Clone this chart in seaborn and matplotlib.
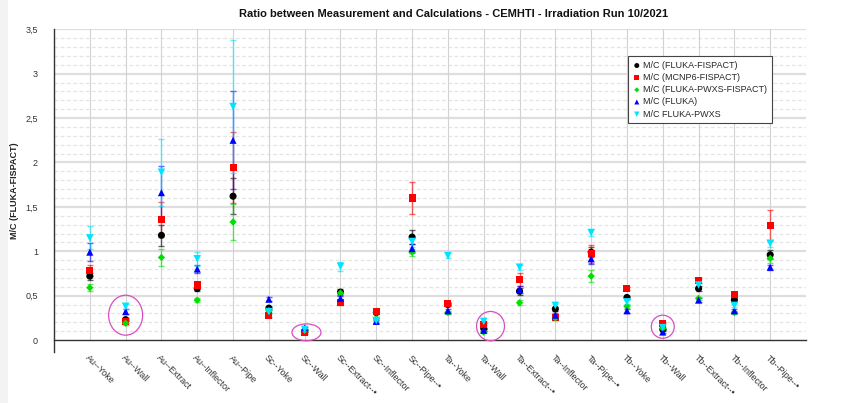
import numpy as np
import pandas as pd
import matplotlib
matplotlib.use("Agg")
import matplotlib.pyplot as plt
from matplotlib.patches import Ellipse, Rectangle
from matplotlib.ticker import MultipleLocator, FuncFormatter
import seaborn as sns

# ---- data -------------------------------------------------------------
categories = ["Au--Yoke", "Au--Wall", "Au--Extract", "Au--Inflector", "Au--Pipe",
              "Sc--Yoke", "Sc--Wall", "Sc--Extract--•", "Sc--Inflector", "Sc--Pipe--•",
              "Ta--Yoke", "Ta--Wall", "Ta--Extract--•", "Ta--Inflector", "Ta--Pipe--•",
              "Tb--Yoke", "Tb--Wall", "Tb--Extract--•", "Tb--Inflector", "Tb--Pipe--•"]

series_names = ["M/C (FLUKA-FISPACT)", "M/C (MCNP6-FISPACT)", "M/C (FLUKA-PWXS-FISPACT)",
                "M/C (FLUKA)", "M/C FLUKA-PWXS"]

fluka_fispact = [0.72, 0.23, 1.18, 0.58, 1.62, 0.36, 0.10, 0.54, 0.31, 1.16,
                 0.40, 0.13, 0.55, 0.35, 0.99, 0.48, 0.12, 0.58, 0.45, 0.96]
fluka_fispact_err = [0.04, 0.02, 0.12, 0.03, 0.20, 0.02, 0.01, 0.03, 0.02, 0.08,
                     0.02, 0.01, 0.04, 0.02, 0.06, 0.02, 0.01, 0.03, 0.02, 0.05]

mcnp6_fispact = [0.78, 0.21, 1.36, 0.62, 1.94, 0.28, 0.08, 0.42, 0.32, 1.60,
                 0.41, 0.18, 0.68, 0.25, 0.97, 0.58, 0.19, 0.67, 0.51, 1.29]
mcnp6_fispact_err = [0.06, 0.02, 0.20, 0.03, 0.40, 0.02, 0.01, 0.02, 0.02, 0.18,
                     0.02, 0.01, 0.07, 0.02, 0.10, 0.02, 0.01, 0.03, 0.02, 0.17]

pwxs_fispact = [0.59, 0.19, 0.93, 0.45, 1.33, 0.33, 0.11, 0.53, 0.24, 0.99,
                0.31, 0.09, 0.42, 0.25, 0.72, 0.38, 0.13, 0.47, 0.31, 0.92]
pwxs_fispact_err = [0.04, 0.02, 0.10, 0.02, 0.20, 0.02, 0.01, 0.02, 0.02, 0.04,
                    0.02, 0.01, 0.03, 0.02, 0.07, 0.02, 0.01, 0.02, 0.02, 0.05]

fluka = [0.99, 0.32, 1.66, 0.80, 2.25, 0.46, 0.14, 0.47, 0.21, 1.03,
         0.33, 0.11, 0.57, 0.28, 0.915, 0.33, 0.09, 0.45, 0.33, 0.82]
fluka_err = [0.10, 0.03, 0.30, 0.05, 0.55, 0.02, 0.01, 0.03, 0.02, 0.05,
             0.02, 0.01, 0.04, 0.02, 0.06, 0.02, 0.01, 0.02, 0.02, 0.03]

fluka_pwxs = [1.15, 0.38, 1.89, 0.915, 2.63, 0.32, 0.12, 0.83, 0.22, 1.11,
              0.95, 0.21, 0.82, 0.39, 1.21, 0.43, 0.14, 0.62, 0.39, 1.09]
fluka_pwxs_err = [0.13, 0.03, 0.38, 0.08, 0.75, 0.02, 0.01, 0.05, 0.02, 0.06,
                  0.03, 0.01, 0.03, 0.02, 0.04, 0.02, 0.01, 0.02, 0.02, 0.04]

values = [fluka_fispact, mcnp6_fispact, pwxs_fispact, fluka, fluka_pwxs]
errors = [fluka_fispact_err, mcnp6_fispact_err, pwxs_fispact_err, fluka_err, fluka_pwxs_err]

colors = ["#000000", "#ff0000", "#00e000", "#0000ff", "#00e5ff"]
markers = ["o", "s", "D", "^", "v"]
sizes = [26, 26, 14, 26, 30]

# long-form table for seaborn
rows = []
for name, vals, errs in zip(series_names, values, errors):
    for i, (v, e) in enumerate(zip(vals, errs)):
        rows.append({"pos": i, "category": categories[i], "series": name, "value": v, "err": e})
df = pd.DataFrame(rows)

# ---- figure -------------------------------------------------------------
sns.set_style("white")
plt.rcParams["font.family"] = ["Liberation Sans", "DejaVu Sans"]

fig = plt.figure(figsize=(8.45, 4.03), dpi=100)
fig.patches.append(Rectangle((0, 0), 8 / 845, 1, transform=fig.transFigure,
                             facecolor="#f3f3f3", edgecolor="none", zorder=0))
ax = fig.add_axes([54 / 845, 1 - 351.6 / 403, 752 / 845, 322.3 / 403])

# grid
for y in np.arange(0.1, 3.5001, 0.1):
    if abs(y / 0.5 - round(y / 0.5)) < 1e-6:
        ax.axhline(y, color="#dedede", lw=1.6, zorder=0)
    else:
        ax.axhline(y, color="#e4e4e4", lw=0.9, ls=(0, (3, 2)), zorder=0)
for i in range(len(categories)):
    ax.plot([i, i], [0, 3.5], color="#d2d2d2", lw=0.8, zorder=0)

# error bars
for name, color in zip(series_names, colors):
    sub = df[df["series"] == name]
    ax.errorbar(sub["pos"], sub["value"], yerr=sub["err"], fmt="none",
                ecolor=color, elinewidth=1.0, capsize=2.5, capthick=1.0,
                alpha=0.6, zorder=2)

# markers
for name, color, mk, s in zip(series_names, colors, markers, sizes):
    sub = df[df["series"] == name]
    sns.scatterplot(data=sub, x="pos", y="value", color=color, marker=mk, s=s,
                    edgecolor="none", linewidth=0, ax=ax, label=name, zorder=3)

# highlighted wall positions
for cx, cy, w, h in [(1.0, 0.28, 0.95, 0.45), (6.05, 0.087, 0.81, 0.19),
                     (11.19, 0.157, 0.78, 0.33), (16.0, 0.15, 0.64, 0.26)]:
    ax.add_patch(Ellipse((cx, cy), w, h, fill=False, edgecolor="#d64fc0",
                         lw=0.9, zorder=4))

# axes
ax.set_xlim(-1, 20)
ax.set_ylim(-0.13, 3.5)
ax.spines["top"].set_visible(False)
ax.spines["right"].set_visible(False)
ax.spines["bottom"].set_position(("data", 0))
for sp in ("left", "bottom"):
    ax.spines[sp].set_color("#333333")
    ax.spines[sp].set_linewidth(1.0)

ax.set_xticks(range(len(categories) + 1))
ax.set_xticklabels(categories + [""], rotation=-45, ha="left", va="top",
                   rotation_mode="anchor", fontsize=6.5, color="#333333")
ax.tick_params(axis="x", direction="out", length=7.5, width=0.8, color="#333333", pad=2)

ax.yaxis.set_major_locator(MultipleLocator(0.5))
ax.yaxis.set_minor_locator(MultipleLocator(0.1))
ax.yaxis.set_major_formatter(FuncFormatter(lambda v, p: f"{v:g}".replace(".", ",")))
ax.tick_params(axis="y", which="major", direction="out", length=9.5, width=0.8,
               color="#333333", labelsize=6.5, labelcolor="#333333", pad=2)
ax.tick_params(axis="y", which="minor", direction="in", length=2.5, width=0.6,
               color="#555555")
ax.set_ylim(-0.13, 3.5)

ax.set_xlabel("")
ax.set_ylabel("")
fig.text(15 / 845, 1 - 191 / 403, "M/C (FLUKA-FISPACT)", rotation=90, ha="center",
         va="center", fontsize=6.5, fontweight="bold", color="#222222")
fig.text(454 / 845, 1 - 14 / 403,
         "Ratio between Measurement and Calculations - CEMHTI - Irradiation Run 10/2021",
         ha="center", va="center", fontsize=8, fontweight="bold", color="#111111")

leg = ax.legend(loc="upper left", bbox_to_anchor=(0.757, 0.93), fontsize=6.5,
                frameon=True, fancybox=False, edgecolor="#444444", framealpha=1,
                handletextpad=0.2, handlelength=1.0, borderpad=0.5, labelspacing=0.35,
                markerscale=0.7)
leg.get_frame().set_linewidth(0.8)

fig.savefig("out.png", dpi=100, facecolor="white")
